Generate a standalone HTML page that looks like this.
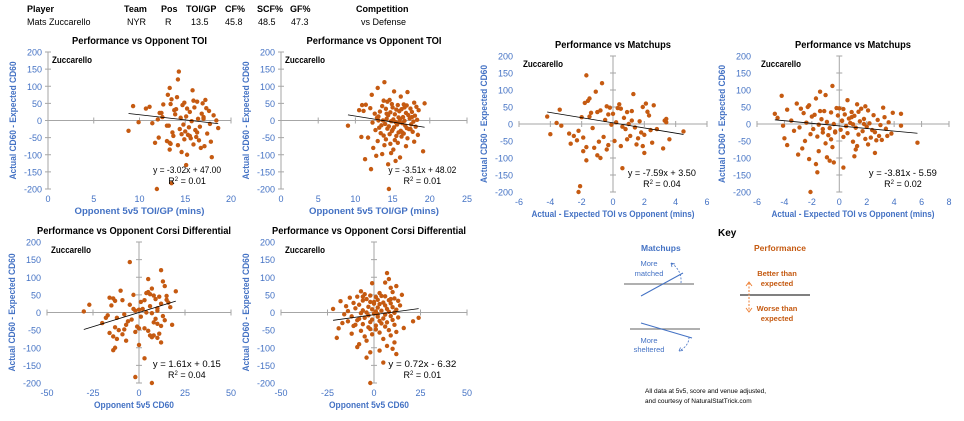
<!DOCTYPE html>
<html><head><meta charset="utf-8"><style>
body{margin:0;background:#fff;}
svg{display:block;font-family:"Liberation Sans",sans-serif;}
</style></head><body>
<svg id="root" width="964" height="421" viewBox="0 0 964 421" xmlns="http://www.w3.org/2000/svg">
<g font-size="9" fill="#000">
<g font-weight="bold">
<text x="27" y="12">Player</text><text x="124" y="12">Team</text><text x="161" y="12">Pos</text><text x="186" y="12">TOI/GP</text><text x="225" y="12">CF%</text><text x="257" y="12">SCF%</text><text x="290" y="12">GF%</text><text x="356" y="12">Competition</text>
</g>
<text x="27" y="25">Mats Zuccarello</text><text x="127" y="25">NYR</text><text x="165" y="25">R</text><text x="191" y="25">13.5</text><text x="225" y="25">45.8</text><text x="258" y="25">48.5</text><text x="291" y="25">47.3</text><text x="361" y="25">vs Defense</text>
</g>
<g id="charts"></g>
<g>
<text x="718" y="236" font-size="10" font-weight="bold">Key</text>
<text x="641" y="251" font-size="8.5" font-weight="bold" fill="#4472c4">Matchups</text>
<text x="754" y="251" font-size="8.5" font-weight="bold" fill="#c55a11">Performance</text>
<line x1="624" y1="284" x2="694" y2="284" stroke="#808080" stroke-width="1.2"/>
<line x1="641" y1="296" x2="683" y2="273" stroke="#4472c4" stroke-width="1"/>
<text x="649" y="266" font-size="7.5" fill="#4472c4" text-anchor="middle">More</text>
<text x="649" y="276" font-size="7.5" fill="#4472c4" text-anchor="middle">matched</text>
<path d="M681,283 Q682,270 671,263" fill="none" stroke="#4472c4" stroke-width="0.8" stroke-dasharray="2,1.5"/>
<path d="M671,263 l1,4 M671,263 l4,1" stroke="#4472c4" stroke-width="0.8"/>
<line x1="630" y1="329" x2="700" y2="329" stroke="#808080" stroke-width="1.2"/>
<line x1="641" y1="323" x2="692" y2="338" stroke="#4472c4" stroke-width="1"/>
<text x="649" y="343" font-size="7.5" fill="#4472c4" text-anchor="middle">More</text>
<text x="649" y="352" font-size="7.5" fill="#4472c4" text-anchor="middle">sheltered</text>
<path d="M689,337 Q689,346 679,351" fill="none" stroke="#4472c4" stroke-width="0.8" stroke-dasharray="2,1.5"/>
<path d="M679,351 l4,-0.5 M679,351 l1.5,-3.5" stroke="#4472c4" stroke-width="0.8"/>
<line x1="740" y1="295" x2="810" y2="295" stroke="#000" stroke-width="1"/>
<line x1="749" y1="283" x2="749" y2="311" stroke="#ed7d31" stroke-width="1" stroke-dasharray="2,1.5"/>
<path d="M746,286 l3,-4 l3,4 M746,308 l3,4 l3,-4" fill="none" stroke="#ed7d31" stroke-width="0.9"/>
<g font-size="7.5" font-weight="bold" fill="#c55a11" text-anchor="middle">
<text x="777" y="276">Better than</text><text x="777" y="286">expected</text>
<text x="777" y="311">Worse than</text><text x="777" y="321">expected</text>
</g>
<text x="645" y="393" font-size="6.5">All data at 5v5, score and venue adjusted,</text>
<text x="645" y="403" font-size="6.5">and courtesy of NaturalStatTrick.com</text>
</g>
</svg>
<script>
const yA = [143,120,95,88,75,68,62,60,58,55,52,50,48,45,42,40,38,36,35,33,30,28,25,22,20,18,15,12,10,8,5,3,0,-2,-5,-8,-10,-12,-15,-18,-20,-22,-25,-28,-30,-32,-35,-38,-40,-42,-45,-48,-50,-52,-55,-58,-60,-62,-65,-68,-70,-72,-75,-80,-85,-92,-100,-107,-130,-183,-200,47,35,-15,-35,10,-45,22,-65,5];
const xA1 = [14.3,14.2,13.3,15.8,13.1,14.1,13.5,17.2,15.9,16.3,14.9,16.9,13.4,14.7,9.3,11.1,16.0,17.3,15.2,14.0,13.8,17.6,15.5,12.4,16.8,13.9,18.1,15.1,17.0,14.5,16.4,12.0,18.4,15.7,9.9,11.4,17.7,14.8,13.2,16.6,15.4,18.6,14.4,16.1,8.8,15.0,13.6,17.4,14.6,15.3,13.7,16.2,12.1,15.6,14.9,16.5,13.0,17.8,11.7,13.4,15.9,14.2,17.1,16.7,13.3,14.6,15.2,17.9,15.1,13.5,11.9,12.6,10.7,13.0,16.3,12.5,15.5,12.2,13.3,17.0];
const xA3 = [-1.7,-0.7,-1.1,1.3,-1.5,-1.6,-1.8,2.1,0.4,2.6,-0.4,1.9,-0.2,0.5,-3.4,-0.8,1.2,2.2,0.9,-1.4,0.0,-0.3,2.3,-4.2,-2.0,0.7,3.4,-0.5,3.3,1.7,0.2,-3.6,1.0,-0.1,-3.3,0.6,1.4,-1.3,0.8,2.4,-2.2,4.5,1.8,-2.8,-4.0,2.0,1.1,-0.6,-1.9,1.6,3.6,-2.3,0.1,-0.9,2.5,-2.7,1.5,-0.3,1.9,-1.7,-1.2,3.2,-0.4,-1.9,2.0,-1.0,-0.8,-1.7,0.6,-2.1,-2.2,0.3,-1.0,2.8,-2.5,1.2,0.9,-1.5,0.5,3.4];
const xA5 = [-5,12,5,13,14,7,-10,20,5,4,6,-3,8,11,-16,-14,9,15,3,-13,1,16,12,-27,-15,6,17,10,2,0,-2,-30,4,7,-8,-17,13,1,-12,9,-4,14,-6,8,-20,10,-7,12,-1,-13,3,-8,-11,5,-2,-16,11,-9,6,-14,7,10,-12,-7,12,0,-13,-14,3,-2,7,15,-9,-18,18,-3,0,-5,8,10];
const yB = [112,95,85,83,75,70,60,58,55,52,50,48,47,46,45,44,42,40,38,36,35,34,33,32,30,28,27,26,25,24,22,20,18,16,15,14,12,10,9,8,6,5,4,3,2,0,-1,-2,-3,-5,-6,-8,-10,-11,-12,-14,-15,-17,-18,-20,-21,-22,-24,-25,-27,-28,-30,-31,-33,-35,-37,-38,-40,-42,-44,-45,-47,-50,-52,-55,-57,-60,-62,-65,-68,-72,-75,-80,-85,-90,-95,-98,-103,-108,-113,-118,-128,-142,-200,30,10,-15,-35,45,-5,20,-25,0,38,-48];
const xB2 = [13.9,13.0,15.2,17.0,12.2,16.1,14.6,13.8,14.3,17.9,19.3,14.9,16.5,11.4,15.7,16.9,13.6,18.2,15.0,12.0,17.4,14.1,16.2,15.5,18.5,11.1,15.9,13.3,17.6,14.7,16.8,12.6,15.3,17.1,14.4,18.0,13.1,16.4,15.8,12.9,17.3,14.2,16.0,15.1,18.3,13.7,16.6,14.8,17.8,15.4,12.3,16.3,14.0,17.5,15.6,13.5,16.7,14.5,18.1,15.2,13.2,16.9,14.3,17.2,15.0,12.7,16.1,14.9,17.7,15.8,13.4,16.5,14.6,18.4,13.8,15.5,16.2,11.7,17.0,14.1,15.3,13.0,17.9,15.7,14.7,13.9,16.8,12.4,15.1,19.1,14.8,13.6,12.8,16.0,11.3,15.4,14.4,12.1,14.5,10.5,17.6,9.0,16.3,10.9,15.9,14.2,17.4,13.1,16.6,10.8];
const xB4 = [-0.5,-1.4,-1.0,-4.2,-1.7,0.6,-3.1,1.3,-2.2,1.9,-2.3,3.2,-0.2,0.0,1.6,0.3,-3.8,2.1,-1.1,1.4,0.9,-0.6,3.9,-2.6,4.5,0.4,-1.8,2.5,-0.1,1.1,-2.0,3.3,-4.5,0.7,1.8,-1.3,2.8,-3.5,0.2,1.5,-0.9,3.6,-2.4,0.8,2.2,-0.4,1.0,-1.5,3.0,-4.1,0.5,2.0,-2.9,1.2,-0.7,3.4,-1.9,0.1,2.4,-3.3,1.7,-0.3,2.6,-1.2,0.6,3.8,-2.1,1.4,-0.8,2.9,-1.6,0.3,2.3,-4.0,1.9,-0.6,3.1,-2.5,1.0,5.7,-1.0,2.1,-3.8,1.3,-0.5,-2.7,1.2,-1.5,2.6,-3.0,1.1,-0.9,-2.2,-0.7,-0.4,-1.7,0.3,-1.6,-2.1,-4.7,0.2,-1.2,3.5,-2.8,4.5,0.9,-0.3,1.8,-1.4,2.7];
const xB6 = [7,8,6,-1,12,9,-7,10,3,-5,15,-2,4,6,-9,1,-13,11,-4,2,8,-6,13,-18,-2,5,-11,9,0,3,-8,14,-15,-3,10,2,-10,7,-1,12,-6,4,-14,1,8,-4,11,-7,0,-16,6,-3,9,-12,2,13,-5,5,-8,-1,10,-9,3,21,-2,7,-17,4,-6,11,1,-11,6,-3,16,-19,-2,8,-7,12,3,-12,-1,9,-5,-20,5,-4,11,-8,7,-9,10,3,-2,12,-4,5,-2,0,-22,24,-10,-6,2,6,-14,11,9,1];
const yTicks = [200,150,100,50,0,-50,-100,-150,-200];
const xTicks1 = [0,5,10,15,20];
const xTicks2 = [0,5,10,15,20,25];
const xTicks3 = [-6,-4,-2,0,2,4,6];
const xTicks4 = [-6,-4,-2,0,2,4,6,8];
const xTicks5 = [-50,-25,0,25,50];
const slopes = [-3.02,-3.51,-7.59,-3.81,1.61,0.72];
const intercepts = [47.00,48.02,3.50,-5.59,0.15,-6.32];
const eqLabels = ["y = -3.02x + 47.00","y = -3.51x + 48.02","y = -7.59x + 3.50","y = -3.81x - 5.59","y = 1.61x + 0.15","y = 0.72x - 6.32"];
const r2Labels = ["0.01","0.01","0.04","0.02","0.04","0.01"];
const titles = ["Performance vs Opponent TOI","Performance vs Opponent TOI","Performance vs Matchups","Performance vs Matchups","Performance vs Opponent Corsi Differential","Performance vs Opponent Corsi Differential"];
const xTitles = ["Opponent 5v5 TOI/GP (mins)","Opponent 5v5 TOI/GP (mins)","Actual - Expected TOI vs Opponent (mins)","Actual - Expected TOI vs Opponent (mins)","Opponent 5v5 CD60","Opponent 5v5 CD60"];
const titleW=[135,135,116,116,194,194];
const xTitleW=[130,130,163,163,80,80];

const NS="http://www.w3.org/2000/svg";
const layouts=[
 {x0:48,x1:231,yt:52,yb:189,xt:xTicks1,xs:xA1,ys:yA},
 {x0:281,x1:467,yt:52,yb:189,xt:xTicks2,xs:xB2,ys:yB},
 {x0:519,x1:707,yt:56,yb:192,xt:xTicks3,xs:xA3,ys:yA},
 {x0:757,x1:949,yt:56,yb:192,xt:xTicks4,xs:xB4,ys:yB},
 {x0:47,x1:231,yt:242,yb:383,xt:xTicks5,xs:xA5,ys:yA},
 {x0:281,x1:467,yt:242,yb:383,xt:xTicks5,xs:xB6,ys:yB}];
function mk(tag,attrs,parent,text){const e=document.createElementNS(NS,tag);for(const k in attrs)e.setAttribute(k,attrs[k]);if(text!==undefined)e.textContent=text;parent.appendChild(e);return e;}
const root=document.getElementById('charts');
layouts.forEach((L,i)=>{
 const g=mk('g',{},root);
 
 
 const xmin=L.xt[0],xmax=L.xt[L.xt.length-1];
 const sx=v=>L.x0+(v-xmin)/(xmax-xmin)*(L.x1-L.x0);
 const sy=v=>L.yb-(v+200)/400*(L.yb-L.yt);
 const cx=(L.x0+L.x1)/2;
 const t=mk('text',{x:cx+(i<4?0:-5),y:L.yt-8,'font-size':'10','font-weight':'bold','text-anchor':'middle',textLength:titleW[i],lengthAdjust:'spacingAndGlyphs'},g,titles[i]);
 
 
 yTicks.forEach(v=>{const tl=mk('text',{x:L.x0-6,y:sy(v)+3.5,'font-size':'9',fill:'#4472c4','text-anchor':'end'},g,String(v));
  
  });
 L.xt.forEach(v=>{const tl=mk('text',{x:sx(v),y:L.yb+13,'font-size':'9',fill:'#4472c4','text-anchor':'middle'},g,String(v));
  
  });
 const y0=sy(0),x0=sx(0);
 mk('line',{x1:L.x0,y1:y0,x2:L.x1,y2:y0,stroke:'#a6a6a6','stroke-width':1},g);
 mk('line',{x1:x0,y1:L.yt,x2:x0,y2:L.yb,stroke:'#a6a6a6','stroke-width':1},g);
 L.xt.forEach(v=>mk('line',{x1:sx(v),y1:y0-3,x2:sx(v),y2:y0+3,stroke:'#a6a6a6','stroke-width':1},g));
 yTicks.forEach(v=>mk('line',{x1:x0-3,y1:sy(v),x2:x0+3,y2:sy(v),stroke:'#a6a6a6','stroke-width':1},g));
 const yt=mk('text',{x:0,y:0,'font-size':'9','font-weight':'bold',fill:'#4472c4','text-anchor':'middle',textLength:118,lengthAdjust:'spacingAndGlyphs',transform:`translate(${L.x0-32},${(L.yt+L.yb)/2}) rotate(-90)`},g,'Actual CD60 - Expected CD60');
 
 
 const xt=mk('text',{x:cx+(i<4?0:-5),y:L.yb+25,'font-size':'9','font-weight':'bold',fill:'#4472c4','text-anchor':'middle',textLength:xTitleW[i],lengthAdjust:'spacingAndGlyphs'},g,xTitles[i]);
 
 
 const zl=mk('text',{x:L.x0+4,y:L.yt+11,'font-size':'9','font-weight':'bold',textLength:40,lengthAdjust:'spacingAndGlyphs'},g,'Zuccarello');
 
 
 const n=Math.min(L.xs.length,L.ys.length);
 for(let k=0;k<n;k++){const c=mk('circle',{cx:sx(L.xs[k]),cy:sy(L.ys[k]),r:2.2,fill:'#c55a11'},g);
  
  }
 const dx=L.xs.slice(0,n);const a=Math.min(...dx),b=Math.max(...dx);
 const tr=mk('line',{x1:sx(a),y1:sy(slopes[i]*a+intercepts[i]),x2:sx(b),y2:sy(slopes[i]*b+intercepts[i]),stroke:'#000','stroke-width':0.8},g);
 
 
 const ex=L.x0+(L.x1-L.x0)*0.76;
 const eq=mk('text',{x:ex,y:L.yb-16,'font-size':'9','text-anchor':'middle',textLength:68,lengthAdjust:'spacingAndGlyphs'},g,eqLabels[i]);
 
 
 const r2=mk('text',{x:ex,y:L.yb-5,'font-size':'9','text-anchor':'middle'},g);
 
 
 r2.innerHTML='R<tspan baseline-shift="super" font-size="6">2</tspan> = '+r2Labels[i];
});
</script>
</body></html>
